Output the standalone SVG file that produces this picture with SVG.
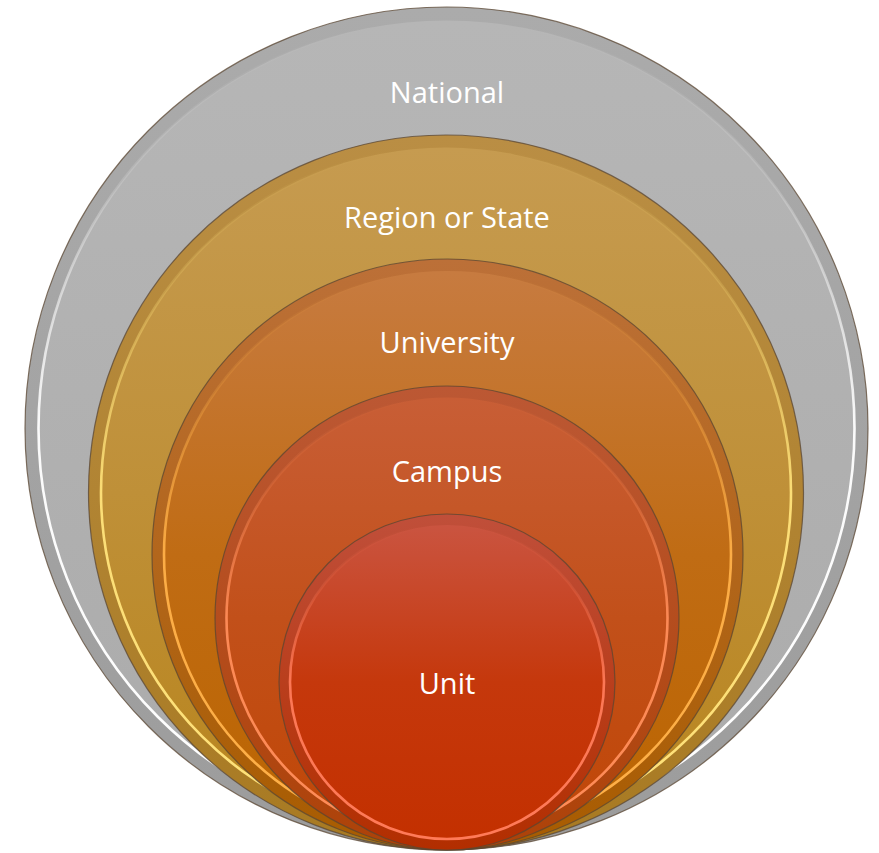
<svg xmlns="http://www.w3.org/2000/svg" width="879" height="853" viewBox="0 0 879 853">
<style>
.edge{stroke:#5a4632;stroke-opacity:0.75;stroke-width:1.2}
.hl{fill:none;stroke-width:2.6}
.lbl{font-family:"Open Sans","Liberation Sans",sans-serif;font-size:29px;fill:#ffffff;text-anchor:middle}
</style>
<defs>
<linearGradient id="nOut" x1="0" y1="0" x2="0" y2="1"><stop offset="0" stop-color="#ababab"/><stop offset="1" stop-color="#9c9c9c"/></linearGradient>
<linearGradient id="nIn" x1="0" y1="0" x2="0" y2="1"><stop offset="0" stop-color="#b6b6b6"/><stop offset="1" stop-color="#ababab"/></linearGradient>
<linearGradient id="nHl" x1="0" y1="0" x2="0" y2="1"><stop offset="0" stop-color="#ffffff" stop-opacity="0"/><stop offset="0.2" stop-color="#ffffff" stop-opacity="0.15"/><stop offset="0.5" stop-color="#ffffff" stop-opacity="0.95"/><stop offset="1" stop-color="#ffffff" stop-opacity="1"/></linearGradient>

<linearGradient id="rOut" x1="0" y1="0" x2="0" y2="1"><stop offset="0" stop-color="#ba8e44"/><stop offset="1" stop-color="#a87a22"/></linearGradient>
<linearGradient id="rIn" x1="0" y1="0" x2="0" y2="1"><stop offset="0" stop-color="#c69b50"/><stop offset="0.5" stop-color="#bf9038"/><stop offset="1" stop-color="#b8841c"/></linearGradient>
<linearGradient id="rHl" x1="0" y1="0" x2="0" y2="1"><stop offset="0" stop-color="#ffe27a" stop-opacity="0"/><stop offset="0.2" stop-color="#ffe27a" stop-opacity="0.2"/><stop offset="0.5" stop-color="#ffe27a" stop-opacity="0.95"/><stop offset="1" stop-color="#ffe27a" stop-opacity="1"/></linearGradient>

<linearGradient id="uOut" x1="0" y1="0" x2="0" y2="1"><stop offset="0" stop-color="#bc7038"/><stop offset="1" stop-color="#a85c00"/></linearGradient>
<linearGradient id="uIn" x1="0" y1="0" x2="0" y2="1"><stop offset="0" stop-color="#c77b40"/><stop offset="0.5" stop-color="#c06c14"/><stop offset="1" stop-color="#bb6400"/></linearGradient>
<linearGradient id="uHl" x1="0" y1="0" x2="0" y2="1"><stop offset="0" stop-color="#ffb048" stop-opacity="0"/><stop offset="0.2" stop-color="#ffb048" stop-opacity="0.2"/><stop offset="0.5" stop-color="#ffb048" stop-opacity="0.95"/><stop offset="1" stop-color="#ffb048" stop-opacity="1"/></linearGradient>

<linearGradient id="cOut" x1="0" y1="0" x2="0" y2="1"><stop offset="0" stop-color="#bc5834"/><stop offset="1" stop-color="#ad4208"/></linearGradient>
<linearGradient id="cIn" x1="0" y1="0" x2="0" y2="1"><stop offset="0" stop-color="#c85e36"/><stop offset="0.5" stop-color="#c2501a"/><stop offset="1" stop-color="#c04606"/></linearGradient>
<linearGradient id="cHl" x1="0" y1="0" x2="0" y2="1"><stop offset="0" stop-color="#ff8c58" stop-opacity="0"/><stop offset="0.2" stop-color="#ff8c58" stop-opacity="0.2"/><stop offset="0.5" stop-color="#ff8c58" stop-opacity="0.95"/><stop offset="1" stop-color="#ff8c58" stop-opacity="1"/></linearGradient>

<linearGradient id="tOut" x1="0" y1="0" x2="0" y2="1"><stop offset="0" stop-color="#c04f3a"/><stop offset="1" stop-color="#b22e00"/></linearGradient>
<linearGradient id="tIn" x1="0" y1="0" x2="0" y2="1"><stop offset="0" stop-color="#ca5440"/><stop offset="0.5" stop-color="#c5380c"/><stop offset="1" stop-color="#c33000"/></linearGradient>
<linearGradient id="tHl" x1="0" y1="0" x2="0" y2="1"><stop offset="0" stop-color="#ff7a58" stop-opacity="0"/><stop offset="0.2" stop-color="#ff7a58" stop-opacity="0.2"/><stop offset="0.5" stop-color="#ff7a58" stop-opacity="0.95"/><stop offset="1" stop-color="#ff7a58" stop-opacity="1"/></linearGradient>
</defs>

<g id="national">
<circle cx="446.5" cy="428.5" r="421.5" fill="url(#nOut)" class="edge"/>
<circle cx="446.5" cy="428.5" r="408" fill="url(#nIn)"/>
<circle cx="446.5" cy="428.5" r="408" class="hl" stroke="url(#nHl)"/>
<text class="lbl" x="447" y="103">National</text>
</g>

<g id="region">
<circle cx="446" cy="492.5" r="357.5" fill="url(#rOut)" class="edge"/>
<circle cx="446" cy="492.5" r="345" fill="url(#rIn)"/>
<circle cx="446" cy="492.5" r="345" class="hl" stroke="url(#rHl)"/>
<text class="lbl" x="447" y="228">Region or State</text>
</g>

<g id="university">
<circle cx="447.5" cy="554.5" r="295.5" fill="url(#uOut)" class="edge"/>
<circle cx="447.5" cy="554.5" r="283.5" fill="url(#uIn)"/>
<circle cx="447.5" cy="554.5" r="283.5" class="hl" stroke="url(#uHl)"/>
<text class="lbl" x="447" y="353">University</text>
</g>

<g id="campus">
<circle cx="447" cy="618" r="232" fill="url(#cOut)" class="edge"/>
<circle cx="447" cy="618" r="220.5" fill="url(#cIn)"/>
<circle cx="447" cy="618" r="220.5" class="hl" stroke="url(#cHl)"/>
<text class="lbl" x="447" y="482">Campus</text>
</g>

<g id="unit">
<circle cx="447" cy="682" r="168" fill="url(#tOut)" class="edge"/>
<circle cx="447" cy="682" r="157" fill="url(#tIn)"/>
<circle cx="447" cy="682" r="157" class="hl" stroke="url(#tHl)"/>
<text class="lbl" x="447" y="694">Unit</text>
</g>

<g id="connectors"/>
</svg>
